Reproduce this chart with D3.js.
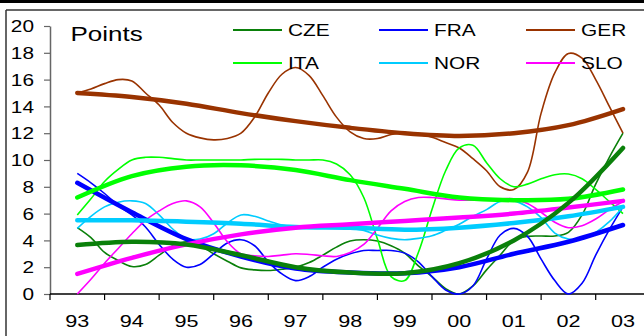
<!DOCTYPE html>
<html>
<head>
<meta charset="utf-8">
<script src="https://cdn.jsdelivr.net/npm/d3@7"></script>
<style>
  html, body { margin: 0; padding: 0; background: #fff; }
  svg { display: block; font-family: "Liberation Sans", Arial, sans-serif; }
</style>
</head>
<body>
<svg id="chart" width="644" height="336"></svg>
<script>
// Year categories on the horizontal axis
const yearLabels = ["93", "94", "95", "96", "97", "98", "99", "00", "01", "02", "03"];
const yearValues = [1993, 1994, 1995, 1996, 1997, 1998, 1999, 2000, 2001, 2002, 2003];
const yTicks = [0, 2, 4, 6, 8, 10, 12, 14, 16, 18, 20];

// Quarterly observation dates, 1993 to 2003
const quarters = d3.range(41).map(i => 1993 + i / 4);

// Quarterly points (thin lines)
const czeActual = [4.95, 4.2, 3.1, 2.5, 2.05, 2.2, 2.9, 3.6, 3.9, 3.6, 3.0, 2.45, 1.95, 1.8, 1.75, 1.85, 2.0, 2.35, 2.9, 3.5,
  3.95, 4.05, 3.95, 3.6, 3.05, 2.1, 1.3, 0.4, 0.0, 0.6, 1.8, 2.9, 4.0, 4.3, 4.33, 4.33, 4.6, 5.9, 8.2, 10.2, 12.0];
const fraActual = [9.0, 8.3, 7.5, 6.6, 5.9, 5.0, 3.7, 2.6, 2.0, 2.2, 3.0, 3.8, 4.05, 3.6, 2.4, 1.5, 1.0, 1.3, 2.0, 2.6,
  3.0, 3.25, 3.25, 3.25, 3.05, 2.4, 1.3, 0.3, 0.0, 0.6, 2.6, 4.4, 4.9, 4.3, 2.6, 1.0, 0.0, 0.8, 2.9, 4.8, 6.5];
const gerActual = [15.0, 15.3, 15.7, 16.0, 15.9, 15.0, 14.1, 12.8, 12.0, 11.65, 11.5, 11.6, 12.0, 13.2, 15.0, 16.4, 16.9, 16.3, 14.8, 13.2,
  12.1, 11.6, 11.6, 11.9, 12.0, 11.9, 11.7, 11.3, 10.9, 10.1, 9.2, 8.0, 7.8, 9.1, 13.5, 16.5, 17.95, 17.6, 16.0, 14.0, 12.0];
const itaActual = [5.9, 7.1, 8.4, 9.3, 10.0, 10.2, 10.2, 10.1, 10.0, 10.0, 10.0, 10.0, 10.0, 10.05, 10.05, 10.05, 10.0, 10.0, 10.0, 9.7,
  8.9, 7.2, 4.1, 1.3, 1.0, 3.1, 6.3, 9.2, 10.9, 11.1, 9.8, 8.6, 8.0, 8.2, 8.6, 8.9, 8.95, 8.6, 7.8, 6.9, 6.0];
const norActual = [4.9, 5.8, 6.5, 6.85, 6.95, 6.75, 5.9, 4.85, 4.1, 4.1, 4.5, 5.3, 5.9, 5.8, 5.45, 5.15, 5.0, 5.0, 5.0, 4.95,
  4.9, 4.75, 4.4, 4.15, 4.05, 4.15, 4.35, 4.75, 5.2, 5.8, 6.3, 6.9, 6.95, 6.5, 5.7, 4.55, 4.1, 4.1, 4.6, 5.4, 6.5];
const sloActual = [0.0, 1.1, 2.3, 3.4, 4.5, 5.5, 6.2, 6.75, 6.95, 6.5, 5.3, 3.9, 3.0, 2.85, 2.8, 2.9, 3.0, 2.95, 2.85, 2.8,
  3.1, 3.7, 4.9, 6.2, 6.9, 7.2, 7.2, 7.1, 7.0, 7.0, 7.0, 7.1, 7.1, 6.75, 6.1, 5.35, 4.95, 5.1, 5.6, 6.3, 6.9];

// Annual trend points (thick lines)
const czeTrend = [3.65, 3.9, 3.7, 2.9, 2.0, 1.6, 1.55, 2.3, 4.0, 6.8, 10.9];
const fraTrend = [8.3, 6.1, 4.1, 2.8, 1.9, 1.6, 1.55, 2.0, 3.0, 3.9, 5.15];
const gerTrend = [15.0, 14.7, 14.2, 13.5, 12.9, 12.4, 12.0, 11.8, 12.0, 12.6, 13.8];
const itaTrend = [7.2, 8.8, 9.5, 9.6, 9.25, 8.5, 7.85, 7.2, 7.0, 7.1, 7.8];
const norTrend = [5.5, 5.5, 5.4, 5.25, 5.0, 4.95, 4.8, 4.95, 5.3, 5.8, 6.5];
const sloTrend = [1.5, 2.7, 3.7, 4.45, 4.95, 5.2, 5.45, 5.7, 6.0, 6.45, 6.95];

const seriesNames = ["CZE", "FRA", "GER", "ITA", "NOR", "SLO"];
const seriesColors = ["#0a800a", "#0000ff", "#993300", "#00ff00", "#00ccff", "#ff00ff"];
const actuals = [czeActual, fraActual, gerActual, itaActual, norActual, sloActual];
const trends = [czeTrend, fraTrend, gerTrend, itaTrend, norTrend, sloTrend];

const svg = d3.select("#chart");
const STRETCH = 1.3;

// Outer frame
svg.append("rect").attr("x", 0).attr("y", 0).attr("width", 644).attr("height", 3).attr("fill", "#000");
svg.append("line").attr("x1", 6).attr("x2", 644).attr("y1", 10).attr("y2", 10)
  .attr("stroke", "#333").attr("stroke-width", 1.5);
svg.append("line").attr("x1", 6).attr("x2", 6).attr("y1", 10).attr("y2", 336)
  .attr("stroke", "#333").attr("stroke-width", 1.5);

// Scales
const xBand = d3.scaleBand().domain(yearLabels).range([50, 50 + 11 * 54.57]).padding(0);
const bw = xBand.bandwidth();
const x = d3.scaleLinear().domain([1993, 2003])
  .range([xBand("93") + bw / 2, xBand("03") + bw / 2]);
const y = d3.scaleLinear().domain([0, 20]).range([294, 26]);

// Y axis
const yAxis = svg.append("g").attr("transform", "translate(50,0)")
  .call(d3.axisLeft(y).tickValues(yTicks).tickSize(6).tickSizeOuter(0).tickFormat(d3.format("d")));
yAxis.select(".domain").attr("stroke", "#666").attr("stroke-width", 1.5);
yAxis.selectAll(".tick line").attr("stroke", "#666").attr("stroke-width", 1.2);
yAxis.selectAll(".tick text")
  .attr("x", 0).attr("dy", "0.35em")
  .attr("transform", `translate(-16,0) scale(${STRETCH},1)`)
  .attr("font-size", 16).attr("fill", "#000")
  .attr("font-family", "'Liberation Sans', Arial, sans-serif");

// X axis: labels centred in each year band, ticks on band boundaries
const xAxis = svg.append("g").attr("transform", "translate(0,294)")
  .call(d3.axisBottom(xBand).tickSize(0).tickSizeOuter(0));
xAxis.select(".domain").remove();
xAxis.append("line").attr("x1", 50).attr("x2", 651).attr("y1", 0).attr("y2", 0)
  .attr("stroke", "#000").attr("stroke-width", 1.5);
xAxis.selectAll(".tick text")
  .attr("y", 0).attr("dy", 0)
  .attr("transform", `translate(0,33) scale(1.27,1)`)
  .attr("font-size", 17).attr("fill", "#000")
  .attr("font-family", "'Liberation Sans', Arial, sans-serif");
xAxis.selectAll("line.bound")
  .data(yearLabels.concat(["end"]))
  .join("line").attr("class", "bound")
  .attr("x1", (d, i) => i < yearLabels.length ? xBand(d) : xBand("03") + bw)
  .attr("x2", (d, i) => i < yearLabels.length ? xBand(d) : xBand("03") + bw)
  .attr("y1", 0).attr("y2", 6)
  .attr("stroke", "#000").attr("stroke-width", 1.2);

// Lines
const thinLine = d3.line()
  .x((d, i) => x(quarters[i]))
  .y(d => y(d))
  .curve(d3.curveCatmullRom.alpha(0.5));
const thickLine = d3.line()
  .x((d, i) => x(yearValues[i]))
  .y(d => y(d))
  .curve(d3.curveCatmullRom.alpha(0.5));

const plot = svg.append("g");
actuals.forEach((vals, k) => {
  plot.append("path").datum(vals)
    .attr("d", thinLine)
    .attr("fill", "none")
    .attr("stroke", seriesColors[k])
    .attr("stroke-width", 1.6)
    .attr("stroke-linejoin", "round");
});
[1, 2, 3, 4, 5, 0].forEach(k => {
  plot.append("path").datum(trends[k])
    .attr("d", thickLine)
    .attr("fill", "none")
    .attr("stroke", seriesColors[k])
    .attr("stroke-width", 4.5)
    .attr("stroke-linejoin", "round")
    .attr("stroke-linecap", "round");
});

// Title
svg.append("text")
  .attr("transform", `translate(70.5,40.5) scale(${STRETCH},1)`)
  .attr("font-size", 20).attr("fill", "#000")
  .text("Points");

// Legend: three columns, two rows
const legendCols = [233, 379, 526];
const legendRows = [30, 63];
const legend = svg.append("g");
seriesNames.forEach((name, k) => {
  const cx = legendCols[k % 3];
  const cy = legendRows[Math.floor(k / 3)];
  legend.append("line")
    .attr("x1", cx).attr("x2", cx + 49).attr("y1", cy).attr("y2", cy)
    .attr("stroke", seriesColors[k]).attr("stroke-width", 1.8);
  legend.append("text")
    .attr("transform", `translate(${cx + 55},${cy + 5.5}) scale(1.28,1)`)
    .attr("font-size", 16.3).attr("fill", "#000")
    .text(name);
});
</script>
</body>
</html>
